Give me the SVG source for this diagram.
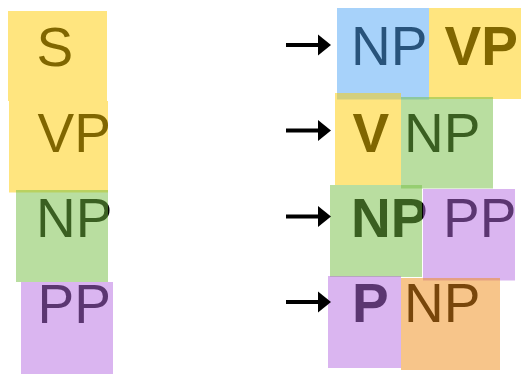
<svg xmlns="http://www.w3.org/2000/svg" width="521" height="374" viewBox="0 0 521 374">
<style>
text{font-family:"Liberation Sans",Arial,sans-serif;font-size:55px;fill:#000}
.b{font-weight:bold}
.note{opacity:0.5}
.y{fill:#ffcc00}.g{fill:#73bd41}.p{fill:#b56be1}.bl{fill:#50a5f5}.o{fill:#ef8b15}
.arr{stroke:#000;stroke-width:4;fill:none}
.head{fill:#000}
</style>
<rect width="521" height="374" fill="#fff"/>
<g id="left-S"><text x="36.5" y="66">S</text><rect class="note y" x="8" y="11" width="99" height="90"/></g>
<g id="left-VP"><text x="37.5" y="152">VP</text><rect class="note y" x="9" y="101" width="99" height="91.5"/></g>
<g id="left-NP"><text x="36" y="237">NP</text><rect class="note g" x="16" y="190" width="92" height="92"/></g>
<g id="left-PP"><text x="37.5" y="323">PP</text><rect class="note p" x="21" y="282" width="92" height="92"/></g>

<g id="r1-NP"><text x="351" y="65">NP</text><rect class="note bl" x="337" y="8" width="92" height="91.5"/></g>
<g id="r1-VP"><text class="b" x="444.5" y="65">VP</text><rect class="note y" x="429" y="8" width="92" height="91"/></g>
<g id="r2-V"><text class="b" x="352.5" y="151.5">V</text><rect class="note y" x="335" y="93" width="66" height="92"/></g>
<g id="r2-NP"><text x="404" y="151.5">NP</text><rect class="note g" x="401" y="97" width="92" height="91.5"/></g>
<g id="r3-NP"><text class="b" x="351" y="237">NP</text><rect class="note g" x="330" y="185" width="92" height="92"/></g>
<g id="r3-PP"><text x="443" y="237">PP</text><rect class="note p" x="423" y="189" width="92" height="91.5"/></g>
<g id="r4-P"><text class="b" x="352" y="322">P</text><rect class="note p" x="328" y="276" width="73" height="92"/></g>
<g id="r4-NP"><text x="404" y="322">NP</text><rect class="note o" x="401" y="278" width="99" height="92"/></g>

<g id="connectors">
<path class="arr" d="M286 45H320"/><polygon class="head" points="318,34.5 331,45 318,55.5"/>
<path class="arr" d="M286 130.5H320"/><polygon class="head" points="318,120 331,130.5 318,141"/>
<path class="arr" d="M286 216.5H320"/><polygon class="head" points="318,206 331,216.5 318,227"/>
<path class="arr" d="M286 302H320"/><polygon class="head" points="318,291.5 331,302 318,312.5"/>
</g>
</svg>
